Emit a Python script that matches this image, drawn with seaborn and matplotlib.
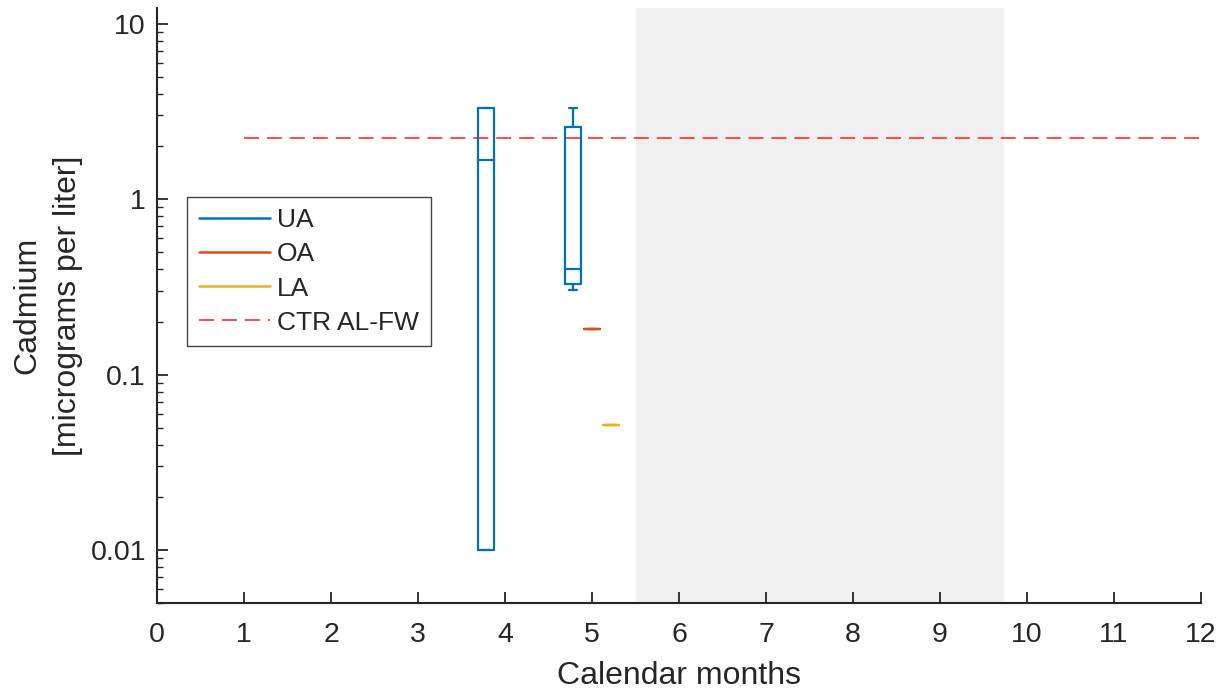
import numpy as np
import pandas as pd
import matplotlib
matplotlib.use("Agg")
import matplotlib.pyplot as plt
from matplotlib.lines import Line2D
import seaborn as sns

# Cadmium samples (micrograms per liter) by calendar month and reach
ua_apr = [0.01, 0.01, 1.67, 3.33, 3.33]
ua_may = [0.304, 0.329, 0.40, 2.57, 3.33]
oa_may = [0.182]
la_may = [0.052]

groups = ["UA", "OA", "LA"]
colors = {"UA": "#0072BD", "OA": "#D95319", "LA": "#EDB120"}
offsets = {"UA": -0.22, "OA": 0.0, "LA": 0.22}

ctr_value = 2.22          # CTR AL-FW criterion
ctr_months = [1, 12]
season = (5.5, 9.73)      # shaded period
month_ticks = list(range(0, 13))
y_ticks = [0.01, 0.1, 1, 10]
y_ticklabels = ["0.01", "0.1", "1", "10"]

records = []
for grp, month, vals in [("UA", 4, ua_apr), ("UA", 5, ua_may),
                         ("OA", 5, oa_may), ("LA", 5, la_may)]:
    for v in vals:
        records.append({"group": grp, "month": month,
                        "pos": month + offsets[grp], "value": v})
df = pd.DataFrame(records)

sns.set_theme(style="white")
plt.rcParams["font.family"] = ["Liberation Sans", "DejaVu Sans"]

ink = "#262626"
fig = plt.figure(figsize=(12.22, 6.93), dpi=100)
ax = fig.add_axes([0.1285, 0.1299, 0.8543, 0.8586])

ax.axvspan(*season, color="#f0f0f0", zorder=0, lw=0)

box_w = 0.18
uniq = np.sort(df["pos"].unique())
min_gap = np.min(np.diff(uniq))
sns.boxplot(data=df, x="pos", y="value", hue="group", hue_order=groups,
            palette=colors, native_scale=True, log_scale=(False, True),
            dodge=False, fill=False, width=box_w / min_gap, linewidth=1.6,
            whis=1.5, showfliers=False, legend=False, ax=ax, zorder=3)

dash = (0, (8.3, 4.4))
sns.lineplot(x=ctr_months, y=[ctr_value, ctr_value], color="#ff3b3b",
             lw=1.3, linestyle=dash, ax=ax, zorder=2)

ax.set_xlim(0, 12)
ax.set_ylim(0.005, 12.3)
ax.set_xticks(month_ticks)
ax.set_xticklabels([str(m) for m in month_ticks])
ax.set_yticks(y_ticks)
ax.set_yticklabels(y_ticklabels)

for side in ["top", "right"]:
    ax.spines[side].set_visible(False)
for side in ["left", "bottom"]:
    ax.spines[side].set_color(ink)
    ax.spines[side].set_linewidth(1.5)
ax.tick_params(axis="both", which="major", direction="in", length=8,
               width=1.3, color=ink, labelsize=20.5, labelcolor=ink,
               left=True, bottom=True)
ax.tick_params(axis="x", which="major", pad=14)
ax.tick_params(axis="y", which="major", pad=8)
ax.tick_params(axis="y", which="minor", direction="in", length=4.5,
               width=1.0, color=ink, left=True)
ax.tick_params(axis="x", which="minor", bottom=False)

ax.set_xlabel("Calendar months", fontsize=23, color=ink, labelpad=9)
ax.set_ylabel("Cadmium\n[micrograms per liter]", fontsize=23,
              color=ink, labelpad=5, linespacing=1.5)

handles = [Line2D([], [], color=colors[g], lw=1.8) for g in groups]
handles.append(Line2D([], [], color="#ff3b3b", lw=1.3, linestyle=dash))
leg = ax.legend(handles, groups + ["CTR AL-FW"], loc="upper left",
                bbox_to_anchor=(0.029, 0.683), borderaxespad=0,
                fontsize=19, frameon=True, fancybox=False, framealpha=1,
                edgecolor="#444444", handlelength=2.7, handletextpad=0.25,
                labelspacing=0.38, borderpad=0.45)
leg.get_frame().set_linewidth(1.0)

fig.savefig("out.png", dpi=100)
